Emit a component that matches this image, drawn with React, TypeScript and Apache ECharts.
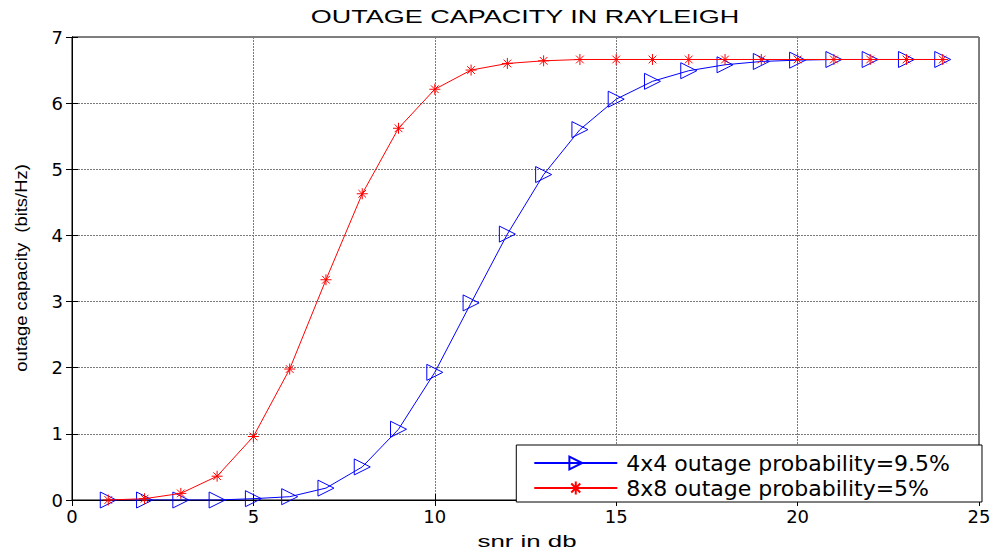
import React, { useEffect, useRef } from "react";
import * as echarts from "echarts";

const snr = [1, 2, 3, 4, 5, 6, 7, 8, 9, 10, 11, 12, 13, 14, 15, 16, 17, 18, 19, 20, 21, 22, 23, 24];
const cap4x4 = [0.0, 0.0, 0.0, 0.0, 0.02, 0.05, 0.18, 0.5, 1.07, 1.93, 2.98, 4.02, 4.92, 5.6, 6.06, 6.33, 6.49, 6.58, 6.63, 6.65, 6.66, 6.66, 6.66, 6.66];
const cap8x8 = [0.0, 0.02, 0.1, 0.36, 0.96, 1.98, 3.33, 4.63, 5.62, 6.21, 6.5, 6.6, 6.64, 6.66, 6.66, 6.66, 6.66, 6.66, 6.66, 6.66, 6.66, 6.66, 6.66, 6.66];
const seriesNames = ["4x4 outage probability=9.5%", "8x8 outage probability=5%"];
const titleText = "OUTAGE CAPACITY IN RAYLEIGH";
const xName = "snr in db";
const yName = "outage capacity  (bits/Hz)";

const TRI = "path://M0,0L10,5L0,10Z";
const STAR = "path://M5,0L5,10M0,5L10,5M1.5,1.5L8.5,8.5M8.5,1.5L1.5,8.5";

export default function App() {
  const ref = useRef<HTMLDivElement>(null);
  useEffect(() => {
    if (!ref.current) return;
    const chart = echarts.init(ref.current, null, { renderer: "svg" });
    const tickFont = { fontFamily: "DejaVu Sans", fontSize: 18, color: "#000" };
    const gridLine = { show: true, lineStyle: { color: "#7a7a7a", type: [2, 1] as any, width: 1 } };
    chart.setOption({
      animation: false,
      backgroundColor: "#fff",
      grid: { left: 72, right: 19, top: 37, bottom: 52, show: true, borderColor: "#000", borderWidth: 1, backgroundColor: "transparent" },
      xAxis: [
        {
          type: "value", min: 0, max: 25, interval: 5,
          axisLine: { show: true, onZero: false, lineStyle: { color: "#000", width: 1 } },
          axisTick: { show: true, inside: true, length: 6, lineStyle: { color: "#000" } },
          axisLabel: { ...tickFont, margin: 7 },
          splitLine: gridLine,
        },
        {
          type: "value", min: 0, max: 25, interval: 5, position: "top",
          axisLine: { show: true, lineStyle: { color: "#000" } },
          axisTick: { show: true, inside: true, length: 6, lineStyle: { color: "#000" } },
          axisLabel: { show: false }, splitLine: { show: false },
        },
      ],
      yAxis: [
        {
          type: "value", min: 0, max: 7, interval: 1,
          axisLine: { show: true, onZero: false, lineStyle: { color: "#000", width: 1 } },
          axisTick: { show: true, inside: true, length: 6, lineStyle: { color: "#000" } },
          axisLabel: { ...tickFont, margin: 9 },
          splitLine: gridLine,
        },
        {
          type: "value", min: 0, max: 7, interval: 1, position: "right",
          axisLine: { show: true, lineStyle: { color: "#000" } },
          axisTick: { show: true, inside: true, length: 6, lineStyle: { color: "#000" } },
          axisLabel: { show: false }, splitLine: { show: false },
        },
      ],
      legend: {
        orient: "vertical",
        right: 16,
        top: 445,
        padding: [7, 32, 3, 17],
        itemGap: 3,
        itemWidth: 83,
        itemHeight: 16,
        backgroundColor: "#fff",
        borderColor: "#000",
        borderWidth: 1,
        borderRadius: 0,
        textStyle: { fontFamily: "DejaVu Sans", fontSize: 22, color: "#000", padding: [0, 0, 0, 4] },
        data: seriesNames,
      },
      graphic: [
        {
          type: "text", x: 525, y: 17, scaleX: 1.5,
          style: { text: titleText, fill: "#000", font: "18px 'Liberation Sans'", textAlign: "center", textVerticalAlign: "middle" },
        },
        {
          type: "text", x: 527, y: 541, scaleX: 1.52,
          style: { text: xName, fill: "#000", font: "17px 'Liberation Sans'", textAlign: "center", textVerticalAlign: "middle" },
        },
        {
          type: "text", x: 21, y: 268, rotation: Math.PI / 2, scaleX: 1.15,
          style: { text: yName, fill: "#000", font: "16px 'Liberation Sans'", textAlign: "center", textVerticalAlign: "middle" },
        },
      ],
      series: [
        {
          name: seriesNames[0],
          type: "line",
          data: snr.map((x, i) => [x, cap4x4[i]]),
          symbol: TRI,
          symbolSize: [16, 16],
          showAllSymbol: true,
          lineStyle: { color: "#0000ff", width: 1 },
          itemStyle: { color: "rgba(255,255,255,0)", borderColor: "#0000ff", borderWidth: 1 },
          emphasis: { disabled: true },
          z: 2,
        },
        {
          name: seriesNames[1],
          type: "line",
          data: snr.map((x, i) => [x, cap8x8[i]]),
          symbol: STAR,
          symbolSize: [11, 11],
          showAllSymbol: true,
          lineStyle: { color: "#ff0000", width: 1 },
          itemStyle: { color: "rgba(255,0,0,0)", borderColor: "#ff0000", borderWidth: 1 },
          emphasis: { disabled: true },
          z: 3,
        },
      ],
    });
    return () => chart.dispose();
  }, []);
  return <div ref={ref} style={{ width: 998, height: 552, position: "absolute", left: 0, top: 0 }} />;
}
